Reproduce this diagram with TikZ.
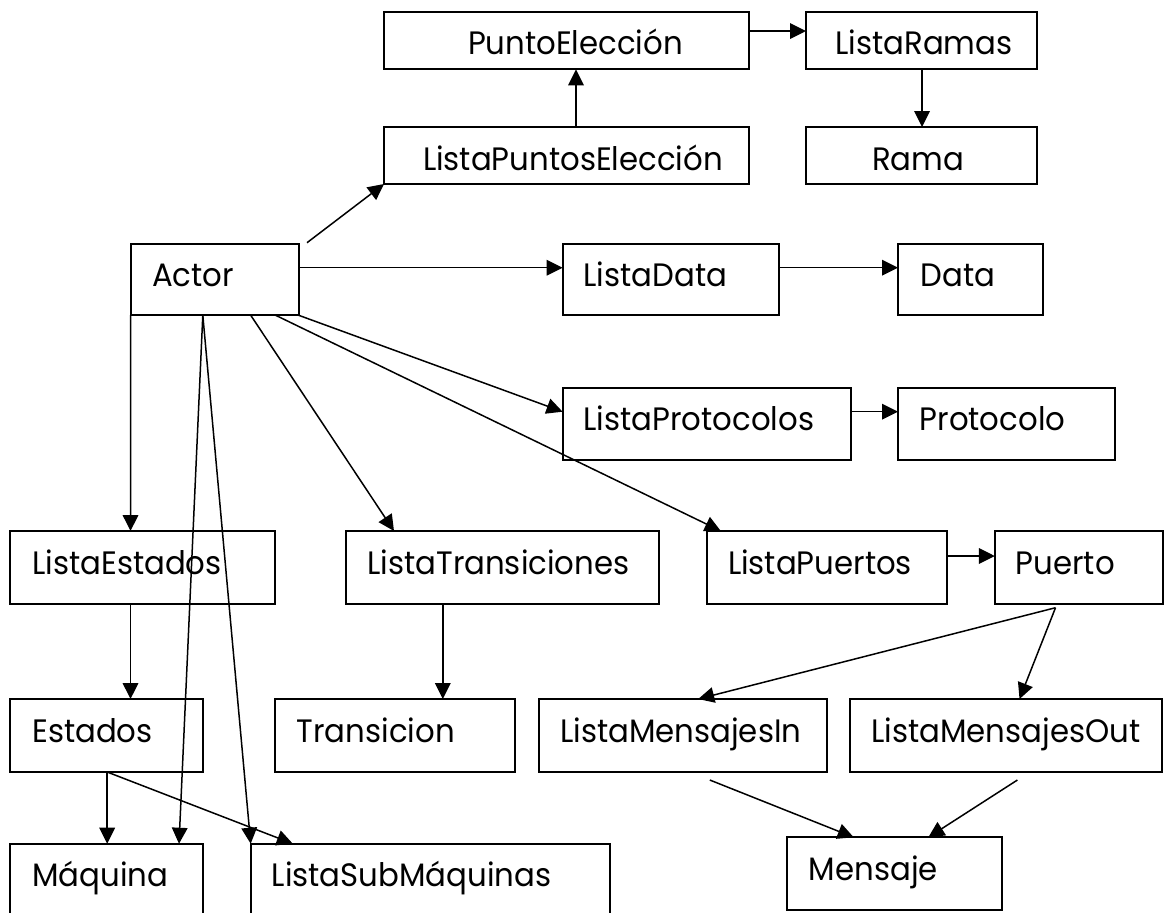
\documentclass[tikz,border=0pt]{standalone}
\usepackage{fontspec}
\setmainfont{Poppins}[FakeStretch=0.95]
\usetikzlibrary{arrows.meta,calc}

\tikzset{
  box/.style={draw, line width=1pt, anchor=north west, outer sep=0pt,
    inner ysep=0pt, text height=21.5pt, align=left,
    font=\fontsize{16.2pt}{19pt}\selectfont},
  % #1 left padding, #2 text width, #3 space below the baseline (pt)
  cajon/.style n args={3}{inner xsep=#1pt, text width=#2pt, text depth=#3pt},
  arr/.style={-{Triangle[length=8pt,width=7.8pt]}, line width=0.75pt}
}

\begin{document}
\begin{tikzpicture}[x=0.5pt,y=-0.5pt]
\fill[white] (0,0) rectangle (1170,912);
\clip (0,0) rectangle (1170,912);

% upper row: choice points and branches
\node[box, cajon={42}{98.5}{7.3}]     (pe)    at (384,11.7)   {PuntoElección};
\node[box, cajon={19.5}{143.5}{7}]    (lpe)   at (384,127)    {ListaPuntosElección};
\node[box, cajon={14.75}{86}{7.3}]    (lr)    at (806,11.7)   {ListaRamas};
\node[box, cajon={33}{49.5}{7}]       (rama)  at (806,127)    {Rama};

% actor and its data / protocol lists
\node[box, cajon={10.75}{62.5}{14.25}] (actor) at (130.5,243.7) {Actor};
\node[box, cajon={10.5}{87.2}{14.25}]  (ld)    at (562.6,243.7) {ListaData};
\node[box, cajon={11.25}{50}{14.25}]   (data)  at (898,243.7)   {Data};
\node[box, cajon={10.5}{123.35}{14.65}] (lprot) at (562.6,387.7) {ListaProtocolos};
\node[box, cajon={10.85}{86.6}{14.65}] (prot)  at (898,387.7)   {Protocolo};

% lists of states, transitions and ports
\node[box, cajon={11}{110.25}{14.85}]  (le)    at (10.3,531)    {ListaEstados};
\node[box, cajon={10.5}{135.2}{14.85}] (ltr)   at (346.4,531)   {ListaTransiciones};
\node[box, cajon={10.5}{99}{14.85}]    (lpu)   at (707,531)     {ListaPuertos};
\node[box, cajon={10.5}{63.1}{14.85}]  (pue)   at (994.8,531)   {Puerto};

% their elements
\node[box, cajon={11}{74.25}{15}]      (est)   at (10.3,699)    {Estados};
\node[box, cajon={11}{98}{15}]         (tra)   at (274.8,699)   {Transicion};
\node[box, cajon={10.75}{122.5}{15}]   (lmi)   at (538.7,699)   {ListaMensajesIn};
\node[box, cajon={10.5}{135}{15}]      (lmo)   at (850.4,699)   {ListaMensajesOut};

% bottom row
\node[box, cajon={11}{74.25}{18.5}]    (maq)   at (10.3,843.7)  {Máquina};
\node[box, cajon={10.5}{158.85}{18.5}] (lsm)   at (250.7,843.7) {ListaSubMáquinas};
\node[box, cajon={11.2}{85.2}{14.85}]  (men)   at (786.5,837.3) {Mensaje};

% connectors
\draw[arr] ($(actor.north east)+(8.5,-1)$) -- (lpe.south west);
\draw[arr] ($(lpe.north west)+(192,0)$) -- ($(pe.south west)+(192,0)$);
\draw[arr] ($(pe.north east)+(0,19.3)$) -- ($(lr.north west)+(0,19.3)$);
\draw[arr] ($(lr.south west)+(116,0)$) -- ($(rama.north west)+(116,0)$);

\draw[arr] ($(actor.north east)+(0,24)$) -- ($(ld.north west)+(0,24)$);
\draw[arr] ($(ld.north east)+(0,24)$) -- ($(data.north west)+(0,24)$);
\draw[arr] (actor.south east) -- ($(lprot.north west)+(0,24)$);
\draw[arr] ($(lprot.north east)+(0,24)$) -- ($(prot.north west)+(0,24)$);

\draw[arr] (actor.south west) -- ($(le.north west)+(120.2,0)$);
\draw[arr] ($(actor.south west)+(120.2,0)$) -- ($(ltr.north west)+(47.6,0)$);
\draw[arr] ($(actor.south west)+(145,0)$) -- ($(lpu.north west)+(13.8,0)$);
\draw[arr] ($(actor.south west)+(72.3,0)$) -- ($(maq.north west)+(168.7,0)$);
\draw[arr] ($(actor.south west)+(72.3,0)$) -- (lsm.north west);

\draw[arr] ($(le.south west)+(120.2,0)$) -- ($(est.north west)+(120.2,0)$);
\draw[arr] ($(ltr.south west)+(96.4,0)$) -- ($(tra.north west)+(168,0)$);
\draw[arr] ($(lpu.north east)+(0,25)$) -- ($(pue.north west)+(0,25)$);

\draw[arr] ($(est.south west)+(96.9,0)$) -- ($(maq.north west)+(96.9,0)$);
\draw[arr] ($(est.south west)+(96.9,0)$) -- ($(lsm.north west)+(42.1,0)$);

\draw[arr] ($(pue.south west)+(60.7,4)$) -- ($(lmi.north west)+(159.5,0)$);
\draw[arr] ($(pue.south west)+(60.7,4)$) -- ($(lmo.north west)+(169.1,0)$);
\draw[arr] ($(lmi.south west)+(171.1,8)$) -- ($(men.north west)+(67.2,0)$);
\draw[arr] ($(lmo.south west)+(167,8)$) -- ($(men.north west)+(141.8,0)$);
\end{tikzpicture}
\end{document}
